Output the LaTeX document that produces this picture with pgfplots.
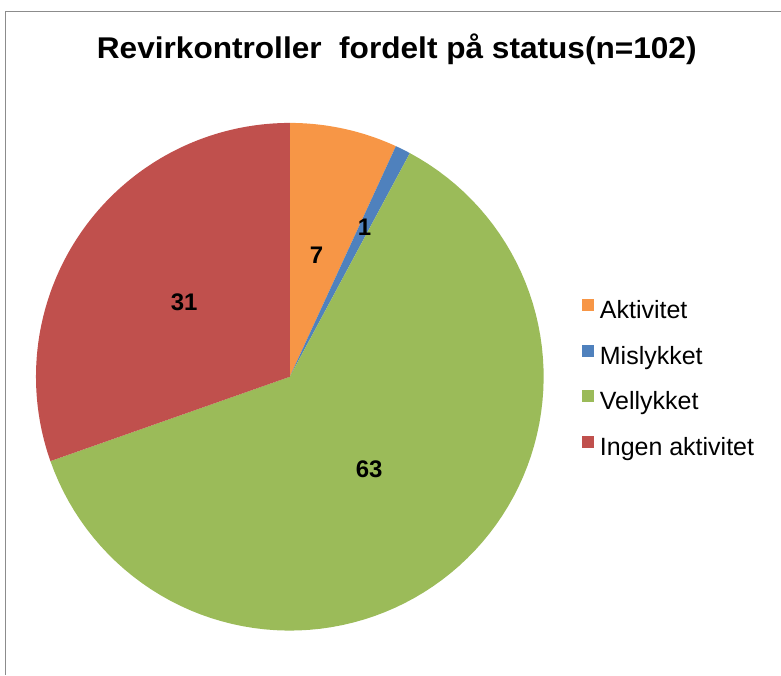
\documentclass[border=0pt]{standalone}
\usepackage{fontspec}
\setmainfont{Liberation Sans}
\usepackage{graphicx}
\usepackage{pgfplots}
\usepackage{pgfplotstable}
\pgfplotsset{compat=1.18}
\usepgfplotslibrary{polar}
\definecolor{slice0}{HTML}{F79646}
\definecolor{slice1}{HTML}{4F81BD}
\definecolor{slice2}{HTML}{9BBB59}
\definecolor{slice3}{HTML}{C0504D}
\definecolor{framegray}{HTML}{8C8C8C}

% value = count, labr = label radius (fraction of pie radius)
\pgfplotstableread[col sep=comma]{
name,value,labr
Aktivitet,7,0.49
Mislykket,1,0.66
Vellykket,63,0.48
Ingen aktivitet,31,0.51
}\piedata

\begin{document}
\begin{tikzpicture}[x=1pt,y=1pt]
\path (0,0) rectangle (781,675);
\draw[framegray, line width=1pt] (6,0) -- (6,663) -- (781,663);
\node at (397,626) {\resizebox{600pt}{\height}{\fontsize{30}{30}\selectfont\bfseries Revirkontroller\ \ fordelt på status(n=102)}};
\begin{polaraxis}[
  at={(290pt,298pt)}, anchor=center,
  scale only axis, width=508pt, height=508pt,
  hide axis, clip=false,
  ymin=0, ymax=1,
  legend image code/.code={\fill[#1] (0pt,1pt) rectangle (12pt,13pt);},
  legend style={draw=none, fill=none, inner sep=0pt,
    at={(1.075,0.653)}, anchor=north west,
    font=\fontsize{25}{25}\selectfont,
    column sep=6pt, row sep=21pt,
    nodes={inner sep=0pt, text height=18pt, text depth=5pt, anchor=west}},
  legend cell align=left,
]
\pgfmathsetmacro\start{90}
\pgfplotsforeachungrouped \i in {0,...,3}{%
  \pgfplotstablegetelem{\i}{value}\of\piedata
  \let\v\pgfplotsretval
  \pgfplotstablegetelem{\i}{labr}\of\piedata
  \let\lr\pgfplotsretval
  \pgfplotstablegetelem{\i}{name}\of\piedata
  \let\nm\pgfplotsretval
  \pgfmathsetmacro\stop{\start-\v/102*360}
  \pgfmathsetmacro\mid{(\start+\stop)/2}
  \edef\cmd{%
    \noexpand\addplot[fill=slice\i, draw=none, domain=\stop:\start, samples=90]
      {1} -- (axis cs:0,0) -- cycle;
    \noexpand\addlegendentry{\nm}
  }\cmd
  \xdef\labelpts{\ifx\labelpts\undefined\else\labelpts\fi (\mid,\lr) [\v]}
  \global\let\start\stop
}
\edef\cmd{\noexpand\addplot[forget plot, draw=none, mark=none,
    point meta=explicit symbolic, nodes near coords,
    nodes near coords style={anchor=center, font=\noexpand\fontsize{24}{24}\noexpand\selectfont\noexpand\bfseries}]
    coordinates {\labelpts};}\cmd
\end{polaraxis}
\end{tikzpicture}
\end{document}
